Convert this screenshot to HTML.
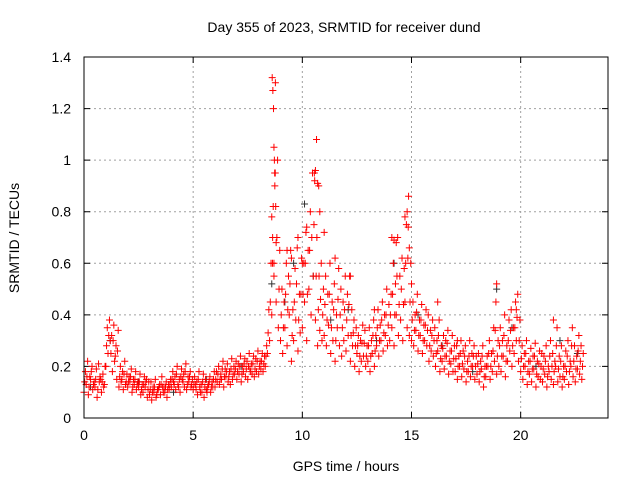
<!DOCTYPE html>
<html><head><meta charset="utf-8"><style>
body{margin:0;background:#fff;}
svg{display:block;font-family:"Liberation Sans",sans-serif;}
</style></head><body>
<svg id="chart" width="640" height="480" viewBox="0 0 640 480">
<text x="344" y="32" font-size="14" text-anchor="middle">Day 355 of 2023, SRMTID for receiver dund</text>
<text transform="translate(19,238) rotate(-90)" font-size="14" text-anchor="middle">SRMTID / TECUs</text>
<text x="346" y="471" font-size="14" text-anchor="middle">GPS time / hours</text>
<g id="grid"></g>
<g id="ticks"></g>
<g id="marks"></g>
<rect x="84" y="57" width="524" height="361" fill="none" stroke="#000" stroke-width="1"/>
</svg>
<script>
const xTicks=[0,5,10,15,20];
const yTicks=[0,0.2,0.4,0.6,0.8,1,1.2,1.4];
const yTickLabels=["0","0.2","0.4","0.6","0.8","1","1.2","1.4"];
const startHour=0, stepHour=0.1;
const seriesLow=[10,13,9,15,11,12,8,14,10,12,20,25,30,18,22,15,12,14,11,13,12,14,10,13,11,12,9,10,12,8,9,7,10,8,11,9,12,10,8,11,12,14,11,13,10,15,12,11,14,12,11,13,9,12,10,8,11,13,10,12,12,14,13,15,12,16,14,13,15,17,15,17,14,18,16,15,19,17,16,18,17,19,18,20,25,30,40,55,45,35,30,25,35,28,40,22,30,38,26,33,35,45,30,50,40,55,38,28,34,30,32,28,36,25,30,22,35,28,24,30,26,32,22,28,20,25,18,22,24,20,22,18,25,20,28,24,30,26,32,28,30,35,28,40,32,38,30,45,35,32,30,28,34,26,32,25,30,28,22,26,24,20,26,18,22,19,24,17,21,18,18,15,20,16,19,14,18,16,20,15,17,14,19,12,16,20,15,18,22,17,20,18,24,16,22,26,20,25,30,22,18,15,20,13,17,14,19,12,16,15,14,17,12,18,15,13,20,14,16,12,15,18,13,20,16,14,19,17,15];
const seriesHigh=[18,22,16,20,14,19,21,15,17,20,35,38,32,36,28,34,20,18,22,17,16,19,15,18,14,17,13,16,15,14,14,12,15,11,13,16,12,14,13,15,18,16,20,15,19,17,21,16,18,15,16,14,18,13,17,15,12,16,14,18,18,20,17,22,19,21,18,23,20,22,21,24,20,23,22,25,21,24,23,26,22,25,24,28,42,60,82,130,100,65,50,45,60,55,65,42,58,66,48,62,60,72,65,80,95,92,70,55,60,50,55,48,60,45,52,40,58,50,45,55,48,55,42,38,35,32,30,36,34,28,35,30,38,32,42,36,45,40,50,44,48,60,52,70,55,62,58,75,86,60,45,40,48,38,44,36,42,40,34,38,35,30,38,28,32,30,34,26,32,28,28,24,30,26,28,22,30,25,28,24,25,22,28,20,24,30,25,35,45,30,35,30,40,28,38,42,35,45,48,38,28,25,30,22,27,24,29,22,26,25,24,28,20,30,25,22,35,24,28,20,26,30,22,35,28,24,32,28,25];
const seriesMid=[14,16,12,18,13,15,11,16,14,13,28,32,25,30,24,26,16,15,17,14,14,16,12,15,13,14,11,13,14,11,11,10,12,9,12,13,10,12,11,13,15,13,17,12,16,14,18,13,16,13,13,11,15,10,14,12,10,14,12,15,15,17,15,19,16,18,16,19,17,19,18,20,17,21,19,20,18,21,19,22,20,22,21,24,33,45,60,95,70,50,40,35,48,42,52,32,45,52,38,48,48,60,48,65,70,75,55,42,46,40,44,38,48,35,42,30,46,40,35,42,38,44,32,33,28,28,24,29,29,24,28,24,32,26,35,30,38,33,40,36,40,48,40,55,44,50,44,60,62,45,38,34,41,32,38,30,36,34,28,32,30,25,32,23,27,24,29,22,26,23,23,20,25,21,24,18,24,20,24,20,21,18,24,16,20,25,20,26,34,24,28,24,32,22,30,34,28,35,39,30,23,20,25,18,22,19,24,17,21,20,19,22,16,24,20,18,28,19,22,16,20,24,18,28,22,19,26,22,20];
const extraHours=[8.62,8.65,8.68,8.7,8.72,8.74,8.76,8.78,8.6,8.64,8.7,8.8,9.3,9.5,9.8,10.0,10.2,10.55,10.6,10.65,10.7,10.75,10.8,11.0,11.5,12.2,14.1,14.2,14.3,14.7,14.8,14.85,14.9,15.0,18.9,19.8,13.3,16.2,17.1,21.5];
const extraValues=[1.32,1.27,1.2,1.05,1.0,0.9,0.95,0.82,0.78,0.7,0.6,0.68,0.65,0.62,0.7,0.6,0.74,0.95,0.96,1.08,0.91,0.9,0.8,0.72,0.62,0.55,0.7,0.69,0.68,0.78,0.8,0.74,0.66,0.52,0.52,0.42,0.42,0.45,0.3,0.38];
const blackHours=[0.3,1.2,2.5,4.1,5.6,7.2,8.6,9.2,9.6,10.1,10.5,11.3,12.1,13.4,14.2,15.3,16.4,17.8,18.9,19.6,20.7,21.8,22.6];
const blackValues=[0.12,0.3,0.14,0.1,0.15,0.2,0.52,0.45,0.6,0.83,0.55,0.38,0.42,0.3,0.6,0.4,0.28,0.18,0.5,0.35,0.2,0.3,0.25];

const X0=84,X1=608,Y0=418,Y1=57;
const xs=v=>X0+(v-0)/(24-0)*(X1-X0);
const ys=v=>Y0-(v-0)/(1.4-0)*(Y0-Y1);
const NS="http://www.w3.org/2000/svg";
const grid=document.getElementById('grid'),ticks=document.getElementById('ticks'),marks=document.getElementById('marks');
function mk(tag,attrs,parent){const e=document.createElementNS(NS,tag);for(const k in attrs)e.setAttribute(k,attrs[k]);parent.appendChild(e);return e;}
xTicks.forEach(t=>{
  const x=xs(t);
  if(t>0){const g=mk('line',{x1:x,x2:x,y1:Y0,y2:Y1,stroke:'#a0a0a0','stroke-dasharray':'2,3'},grid);
  
  }
  const tk=mk('path',{d:`M${x},${Y0}v-6M${x},${Y1}v6`,stroke:'#000'},ticks);
  
  
  const l=mk('text',{x:x,y:Y0+22,'font-size':14,'text-anchor':'middle'},ticks);l.textContent=t;
  
  
});
yTicks.forEach((t,i)=>{
  const y=ys(t);
  if(t>0&&t<1.4){const g=mk('line',{x1:X0,x2:X1,y1:y,y2:y,stroke:'#a0a0a0','stroke-dasharray':'2,3'},grid);
  
  }
  const tk=mk('path',{d:`M${X0},${y}h6M${X1},${y}h-6`,stroke:'#000'},ticks);
  
  
  const l=mk('text',{x:X0-13,y:y+5,'font-size':14,'text-anchor':'end'},ticks);l.textContent=yTickLabels[i];
  
  
});
function plus(h,v,color){
  const x=xs(h),y=ys(v);
  const p=mk('path',{d:`M${x-3.5},${y}h7M${x},${y-3.5}v7`,stroke:color,'stroke-width':1,fill:'none'},marks);
  
  
}
blackHours.forEach((h,i)=>plus(h,blackValues[i],'#333'));
[[seriesLow,0],[seriesMid,0.033],[seriesHigh,0.066]].forEach(([arr,off])=>{
  arr.forEach((v,i)=>plus(startHour+i*stepHour+off,v/100,'#f00'));
});
extraHours.forEach((h,i)=>plus(h,extraValues[i],'#f00'));
</script>
</body></html>
